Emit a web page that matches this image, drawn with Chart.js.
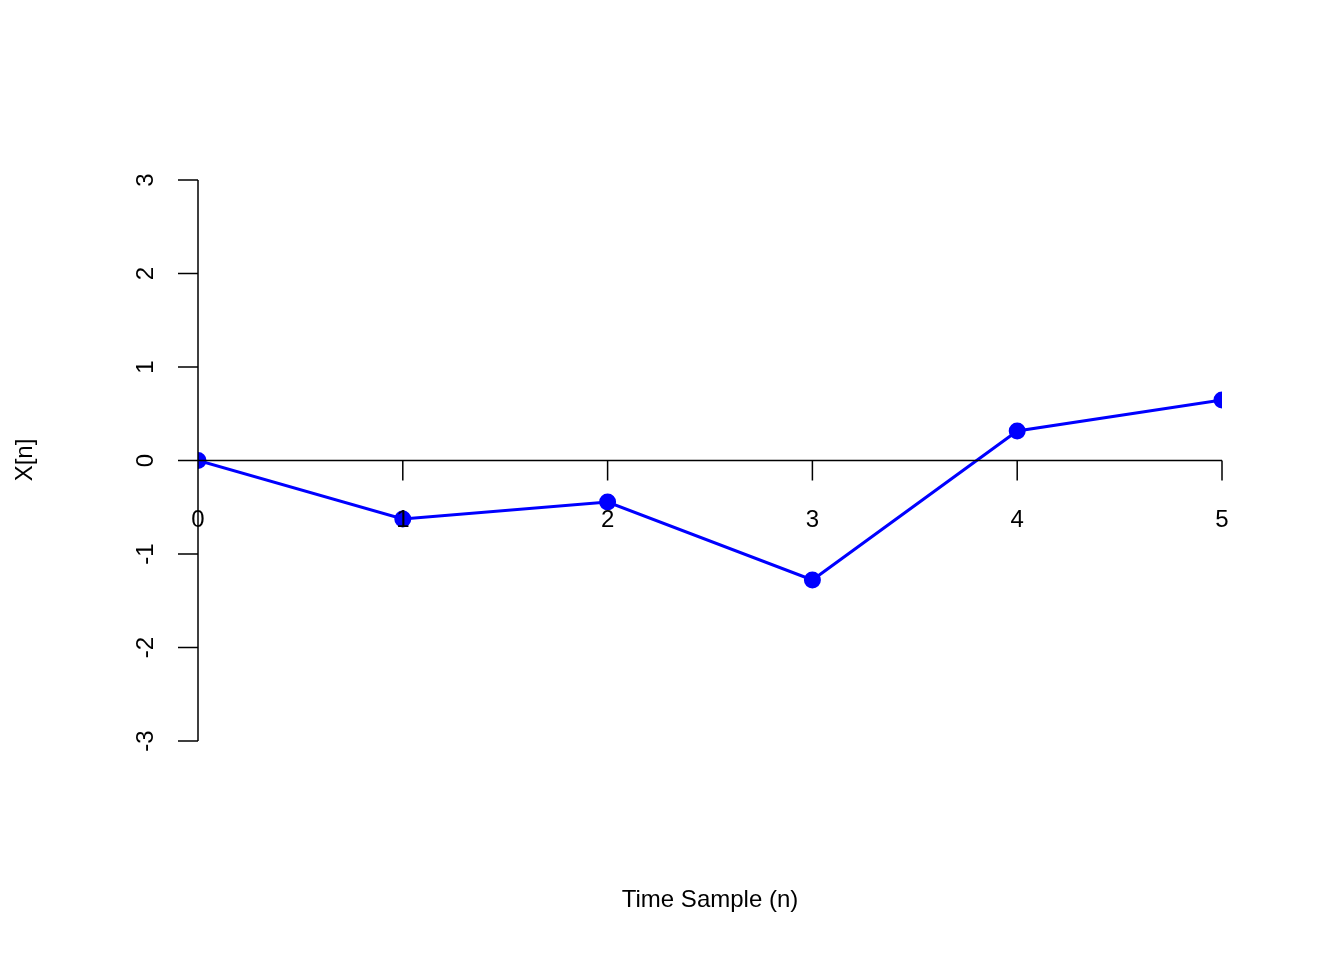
<!DOCTYPE html>
<html>
<head>
<meta charset="utf-8">
<script src="https://cdn.jsdelivr.net/npm/chart.js@4"></script>
<style>
  html, body { margin: 0; padding: 0; background: #fff; }
</style>
</head>
<body>
<canvas id="line-chart" width="1344" height="960"></canvas>
<script>
const samples = [0, 1, 2, 3, 4, 5];
const values = [0, -0.626, -0.444, -1.278, 0.316, 0.647];
const yTicks = [-3, -2, -1, 0, 1, 2, 3];
const xTicks = [0, 1, 2, 3, 4, 5];

const FONT = '24px "Liberation Sans", Arial, sans-serif';

// R-style axes drawn through the chart's own scales
const baseAxes = {
  id: "baseAxes",
  afterDatasetsDraw(chart) {
    const { ctx, scales: { x, y } } = chart;
    ctx.save();
    ctx.strokeStyle = "#000";
    ctx.fillStyle = "#000";
    ctx.lineWidth = 1.5;
    ctx.font = FONT;

    // y axis
    const x0 = x.getPixelForValue(0);
    ctx.beginPath();
    ctx.moveTo(x0, y.getPixelForValue(3));
    ctx.lineTo(x0, y.getPixelForValue(-3));
    yTicks.forEach(v => {
      const py = y.getPixelForValue(v);
      ctx.moveTo(x0, py);
      ctx.lineTo(x0 - 20, py);
    });
    // x axis at y = 0
    const y0 = y.getPixelForValue(0);
    ctx.moveTo(x.getPixelForValue(0), y0);
    ctx.lineTo(x.getPixelForValue(5), y0);
    xTicks.forEach(v => {
      const px = x.getPixelForValue(v);
      ctx.moveTo(px, y0);
      ctx.lineTo(px, y0 + 20);
    });
    ctx.stroke();

    ctx.textAlign = "center";
    ctx.textBaseline = "middle";
    xTicks.forEach(v => ctx.fillText(String(v), x.getPixelForValue(v), y0 + 60));
    yTicks.forEach(v => {
      ctx.save();
      ctx.translate(x0 - 52, y.getPixelForValue(v));
      ctx.rotate(-Math.PI / 2);
      ctx.fillText(String(v), 0, 0);
      ctx.restore();
    });

    ctx.fillText("Time Sample (n)", 710, 900);
    ctx.save();
    ctx.translate(25, 460);
    ctx.rotate(-Math.PI / 2);
    ctx.fillText("X[n]", 0, 0);
    ctx.restore();
    ctx.restore();
  }
};

new Chart(document.getElementById("line-chart"), {
  type: "line",
  data: {
    datasets: [{
      data: samples.map((s, i) => ({ x: s, y: values[i] })),
      borderColor: "#0000ff",
      backgroundColor: "#0000ff",
      borderWidth: 3,
      pointRadius: 7,
      pointHoverRadius: 7,
      tension: 0,
    }],
  },
  options: {
    responsive: false,
    animation: false,
    devicePixelRatio: 1,
    layout: { padding: { left: 198, right: 122, top: 180, bottom: 219 } },
    plugins: { legend: { display: false }, tooltip: { enabled: false } },
    scales: {
      x: { type: "linear", min: 0, max: 5, display: false },
      y: { min: -3, max: 3, display: false },
    },
  },
  plugins: [baseAxes],
});
</script>
</body>
</html>
